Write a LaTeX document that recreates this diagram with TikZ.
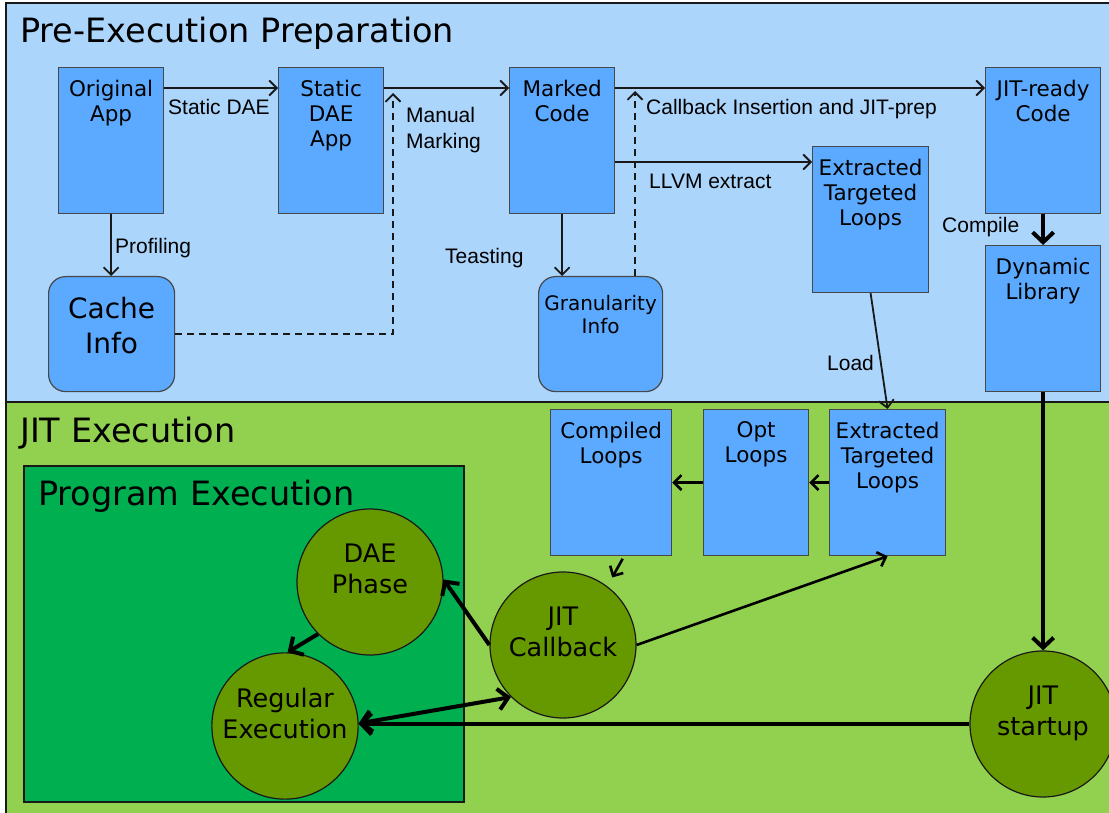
\documentclass[tikz,border=0pt]{standalone}
\usepackage{fontspec}
\setmainfont{DejaVu Sans}
\newfontfamily\tagfont{Liberation Sans}
\usetikzlibrary{arrows.meta,positioning}
\definecolor{paneblue}{RGB}{172,213,252}
\definecolor{boxblue}{RGB}{92,170,255}
\definecolor{jitlime}{RGB}{146,208,80}
\definecolor{progreen}{RGB}{0,176,80}
\definecolor{phasegreen}{RGB}{102,153,0}
\definecolor{ink}{RGB}{25,25,25}
\tikzset{
  >={Straight Barb[length=7.5pt,width=15pt]},
  bigtip/.tip={Straight Barb[length=10pt,width=21pt]},
  flow/.style={->,line width=1.8pt,draw=ink},
  jitflow/.style={flow,line width=2.6pt,draw=black},
  dashflow/.style={flow,dash pattern=on 7pt off 5pt},
  bigflow/.style={-bigtip,line width=4pt,draw=black},
  pane/.style={draw=ink,line width=1.5pt,fill=#1},
  box/.style={draw=ink!80,line width=1.2pt,fill=boxblue,anchor=north west,inner sep=0pt,
    minimum width=#1,minimum height=146pt},
  box/.default=105pt,
  infobox/.style={box=#1,minimum height=115pt,rounded corners=17pt},
  boxtext/.style={align=center,inner sep=0pt,anchor=north,label distance=-12.5pt,
    font=\fontsize{21.5}{25}\selectfont},
  phase/.style={circle,draw=ink,line width=1.2pt,fill=phasegreen,minimum size=146pt,
    inner sep=0pt,align=center,text depth=26pt,font=\fontsize{25.5}{31}\selectfont},
  tag/.style={inner sep=0pt,anchor=base west,font=\tagfont\fontsize{21}{26}\selectfont},
  heading/.style={inner sep=0pt,anchor=base west,font=\fontsize{33.5}{40}\selectfont},
}

\begin{document}
\begin{tikzpicture}[x=1pt,y=-1pt]
  \useasboundingbox (0,0) rectangle (1109,813);
  \clip (0,0) rectangle (1109,813);
  \fill[white] (0,0) rectangle (1109,813);
  % the two stages
  \draw[pane=paneblue] (6,3) rectangle (1120,402);
  \draw[pane=jitlime] (6,402) rectangle (1120,822);
  \draw[pane=progreen,line width=1.3pt] (24,466) rectangle (464,802);
  \node[heading] (pre-title) at (20,43) {Pre-Execution Preparation};
  \node[heading] (jit-title) at (20,442) {JIT Execution};
  \node[heading] (prog-title) at (38,505) {Program Execution};

  % preparation
  \node[box,label={[boxtext]north:Original\\App}] (orig) at (58,67) {};
  \node[box,label={[boxtext]north:Static\\DAE\\App}] (sdae) at (278,67) {};
  \node[box,label={[boxtext]north:Marked\\Code}] (marked) at (509,67) {};
  \node[box=115pt,label={[boxtext]north:JIT-ready\\Code}] (jitready) at (985,67) {};
  \node[box=116pt,label={[boxtext]north:Extracted\\Targeted\\Loops}] (extr) at (812,146) {};
  \node[box=115pt,label={[boxtext]north:Dynamic\\Library}] (dynlib) at (985,245) {};
  \node[infobox=126pt,label={[boxtext,label distance=-21pt,font=\fontsize{28}{35}\selectfont]north:Cache\\Info}] (cache) at (48,276) {};
  \node[infobox=124pt,label={[boxtext,label distance=-19pt,font=\fontsize{20}{23}\selectfont]north:Granularity\\Info}] (gran) at (538,276) {};

  % JIT execution
  \node[box=121pt,label={[boxtext]north:Compiled\\Loops}] (comp) at (550,409) {};
  \node[box,label={[boxtext]north:Opt\\Loops}] (opt) at (703,409) {};
  \node[box=116pt,label={[boxtext]north:Extracted\\Targeted\\Loops}] (extrjit) at (829,409) {};
  \node[phase] (dae) at (370,582) {DAE\\Phase};
  \node[phase] (reg) at (285,726) {Regular\\Execution};
  \node[phase] (callback) at (563,645) {JIT\\Callback};
  \node[phase] (startup) at (1043,724) {JIT\\startup};

  % connectors
  \coordinate (mmtip) at (393,93);
  \coordinate (cbtip) at (635,91);
  \coordinate (llvmtip) at ([yshift=-16pt]extr.north west);
  \draw[flow] ([yshift=-21pt]orig.north east) -- ([yshift=-21pt]sdae.north west);
  \draw[flow] ([yshift=-21pt]sdae.north east) -- ([yshift=-21pt]marked.north west);
  \draw[flow] ([yshift=-21pt]marked.north east) -- ([yshift=-21pt]jitready.north west);
  \draw[flow] (marked.east |- llvmtip) -- (llvmtip);
  \draw[flow] (orig.south) -- (orig.south |- cache.north);
  \draw[flow] (marked.south) -- (marked.south |- gran.north);
  \draw[dashflow] (cache.east) -| (mmtip);
  \draw[dashflow] (gran.north -| cbtip) -- (cbtip);
  \draw[bigflow] (jitready.south) -- (dynlib.north);
  \draw[flow] (extr.south) -- (extrjit.north);
  \draw[bigflow] (dynlib.south) -- (dynlib.south |- startup.north);
  \draw[bigflow] (startup.west) -- (startup.west -| reg.east);
  \draw[bigflow,bigtip-bigtip] (reg.2) -- (callback.225);
  \draw[bigflow] (callback.west) -- (dae.2);
  \draw[bigflow] (dae.225) -- (reg.88);
  \draw[jitflow,shorten <=3pt,shorten >=10pt] ([xshift=13pt]comp.south) -- (callback.53);
  \draw[jitflow] (callback.east) -- (extrjit.south);
  \draw[jitflow] (extrjit.west) -- (opt.east);
  \draw[jitflow] (opt.west) -- (comp.east);

  % labels
  \node[tag] (t-static) at (168,115) {Static DAE};
  \node[tag,anchor=north west,align=left] (t-manual) at (406,107) {Manual\\Marking};
  \node[tag] (t-callback) at (646,115) {Callback Insertion and JIT-prep};
  \node[tag] (t-llvm) at (649,189) {LLVM extract};
  \node[tag] (t-prof) at (115,254) {Profiling};
  \node[tag] (t-test) at (445,264) {Teasting};
  \node[tag] (t-compile) at (942,233) {Compile};
  \node[tag] (t-load) at (827,370) {Load};
\end{tikzpicture}
\end{document}
